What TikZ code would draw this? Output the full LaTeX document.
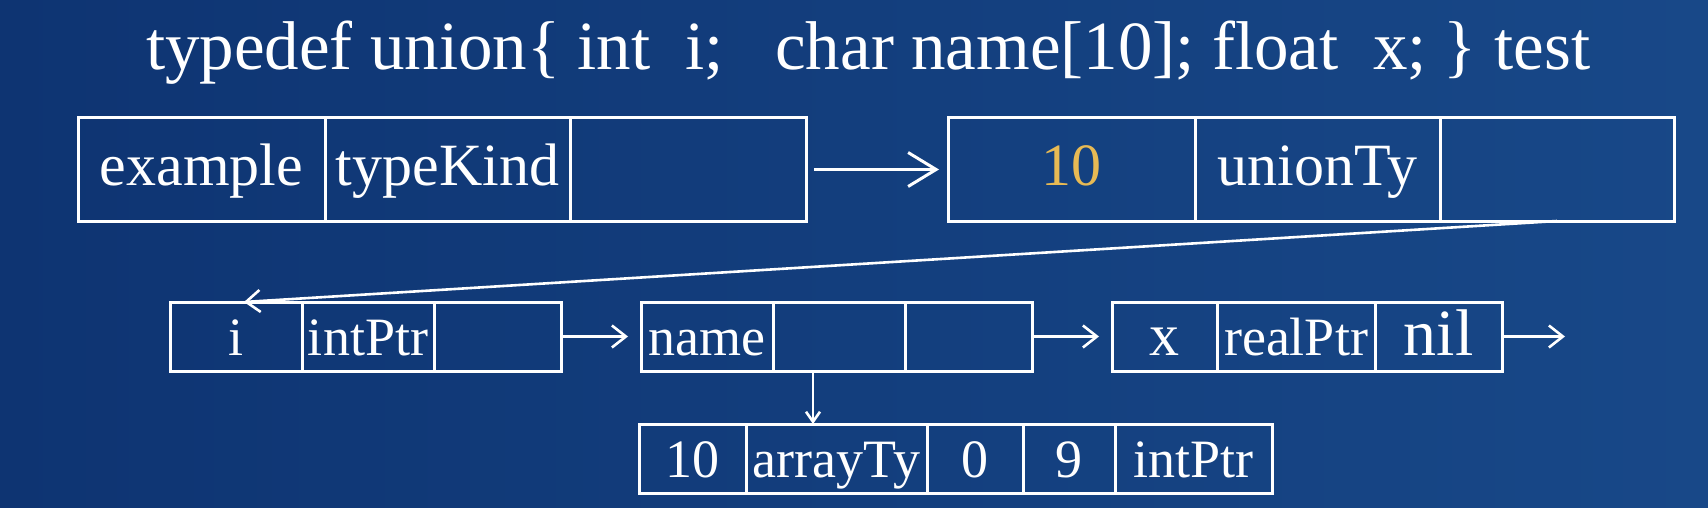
\documentclass[tikz,border=0pt]{standalone}
\usepackage{fontspec}
\setmainfont{Liberation Serif}
\usepackage{xcolor}
\usepackage{tikz}
\usetikzlibrary{arrows.meta,positioning}

\definecolor{bgdark}{RGB}{14,52,114}
\definecolor{bgmid}{RGB}{30,80,142}
\definecolor{bglight}{RGB}{24,72,136}
\definecolor{numyellow}{RGB}{232,186,84}

\begin{document}
\begin{tikzpicture}[x=0.5pt, y=-0.5pt,
  field/.style={draw=white, line width=1.5pt, inner sep=0pt, outer sep=0pt, text=white},
  bigcell/.style={field, minimum height=51.5pt, font=\fontsize{30}{30}\selectfont, text height=22pt, text depth=6.5pt},
  smallcell/.style={field, minimum height=34.5pt, font=\fontsize{27}{27}\selectfont, text height=24.5pt, text depth=6pt},
  link/.style={-{Straight Barb[length=7pt,width=11pt]}, white, line width=1.3pt},
  biglink/.style={-{Straight Barb[length=14pt,width=17pt]}, white, line width=1.5pt}
]
\shade[left color=bgdark, middle color=bgmid, right color=bglight] (0,0) rectangle (1708,508);
\useasboundingbox (0,0) rectangle (1708,508);

\node[text=white, font=\fontsize{34.5}{34.5}\selectfont, anchor=base] (decl) at (868,70)
  {typedef union\{ int\hspace{0.5em}i;\hspace{0.75em}char name[10]; float\hspace{0.5em}x; \} test};

% record of example
\node[bigcell, minimum width=123.5pt, anchor=north west] (ex1) at (78,118) {example};
\node[bigcell, minimum width=122.5pt, right=0pt of ex1] (ex2) {typeKind};
\node[bigcell, minimum width=118pt, right=0pt of ex2] (ex3) {};

% union type
\node[bigcell, minimum width=123.5pt, anchor=north west, text=numyellow] (un1) at (948,118) {10};
\node[bigcell, minimum width=122.5pt, right=0pt of un1] (un2) {unionTy};
\node[bigcell, minimum width=117pt, right=0pt of un2] (un3) {};

% field list
\node[smallcell, minimum width=66pt, anchor=north west] (ia1) at (170,302) {i};
\node[smallcell, minimum width=66pt, right=0pt of ia1] (ia2) {intPtr};
\node[smallcell, minimum width=63.5pt, right=0pt of ia2] (ia3) {};

\node[smallcell, minimum width=66pt, anchor=north west] (na1) at (641,302) {name};
\node[smallcell, minimum width=66pt, right=0pt of na1] (na2) {};
\node[smallcell, minimum width=63.5pt, right=0pt of na2] (na3) {};

\node[smallcell, minimum width=52.5pt, anchor=north west, font=\fontsize{30}{30}\selectfont] (xa1) at (1112,302) {x};
\node[smallcell, minimum width=79pt, right=0pt of xa1] (xa2) {realPtr};
\node[smallcell, minimum width=63.5pt, right=0pt of xa2, font=\fontsize{33}{33}\selectfont] (xa3) {nil};
\coordinate[right=31.5pt of xa3] (xend);

% array type
\node[smallcell, minimum width=53.5pt, anchor=north west] (ar1) at (639,424) {10};
\node[smallcell, minimum width=90.5pt, right=0pt of ar1] (ar2) {arrayTy};
\node[smallcell, minimum width=48pt, right=0pt of ar2] (ar3) {0};
\node[smallcell, minimum width=46pt, right=0pt of ar3] (ar4) {9};
\node[smallcell, minimum width=78.5pt, right=0pt of ar4] (ar5) {intPtr};

\draw[biglink, shorten <=4pt, shorten >=4.5pt] (ex3) -- (un1);
\draw[link] (un3.south) -- ([xshift=4pt]ia1.north);
\foreach \x/\y in {ia3/na1,na3/xa1}
  \draw[link, shorten <=1pt, shorten >=6.5pt] (\x) -- (\y);
\draw[link, shorten <=1pt] (xa3) -- (xend);
\draw[link, -{Straight Barb[length=5pt,width=7pt]}] ([xshift=-13pt]na2.south) -- ([xshift=-13pt]na2.south |- ar2.north);
\end{tikzpicture}
\end{document}
